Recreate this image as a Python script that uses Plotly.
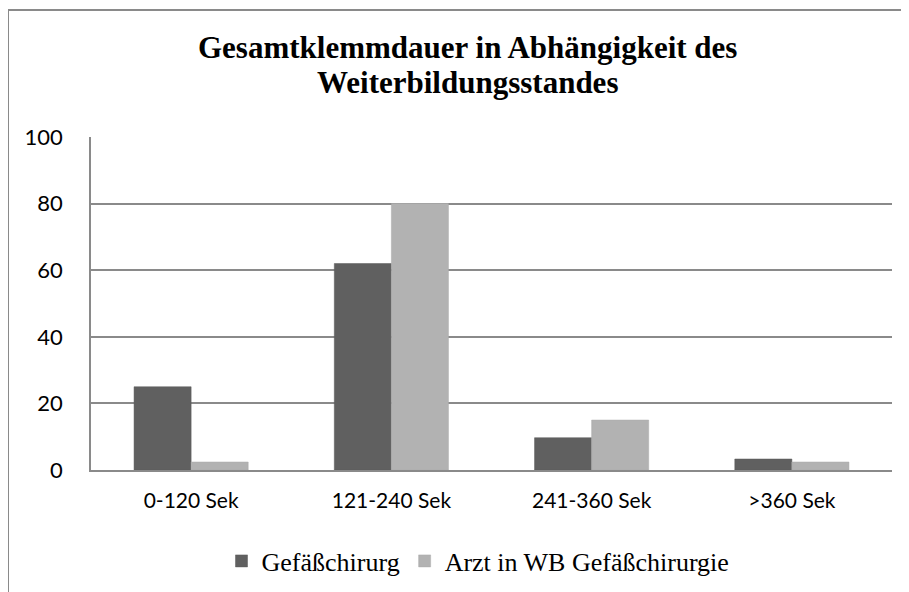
import plotly.graph_objects as go

categories = ["0-120 Sek", "121-240 Sek", "241-360 Sek", ">360 Sek"]
gefaess = [25, 62, 9.7, 3.3]
arzt_wb = [2.4, 80, 15, 2.4]
series_names = ["Gefäßchirurg", "Arzt in WB Gefäßchirurgie"]
title_lines = ["Gesamtklemmdauer in Abhängigkeit des", "Weiterbildungsstandes"]
y_ticks = [0, 20, 40, 60, 80, 100]

W, H = 909, 592
OFF = 7  # page body offset
# target plot area in screen px: x 90..891, y 136..469
L = 90 - OFF
T = 136 - OFF
R = W - (891 - OFF)
B = H - (469 - OFF)
PW = W - L - R
PH = H - T - B


def px_x(sx):
    return (sx - OFF - L) / PW


def px_y(sy):
    return (H - B - (sy - OFF)) / PH


fig = go.Figure()
fig.add_trace(go.Bar(x=categories, y=gefaess, name=series_names[0],
                     marker=dict(color="#606060", line=dict(color="#5a5a5a", width=0.5))))
fig.add_trace(go.Bar(x=categories, y=arzt_wb, name=series_names[1],
                     marker=dict(color="#b2b2b2", line=dict(color="#aaaaaa", width=0.5))))

fig.update_layout(
    width=W, height=H,
    margin=dict(l=L, r=R, t=T, b=B),
    paper_bgcolor="white", plot_bgcolor="white",
    barmode="group", bargap=0.43, bargroupgap=0,
    legend=dict(orientation="h", x=px_x(477), xanchor="center", y=px_y(560), yanchor="middle",
                font=dict(family="Liberation Serif", size=26, color="black"),
                itemwidth=30, traceorder="normal"),
    showlegend=True,
)
for i, (line, sy) in enumerate(zip(title_lines, [46, 81])):
    fig.add_annotation(text="<b>" + line + "</b>", xref="paper", yref="paper",
                       x=px_x(466), y=px_y(sy), xanchor="center", yanchor="middle",
                       showarrow=False,
                       font=dict(family="Liberation Serif", size=31, color="black"))

fig.update_yaxes(range=[0, 100], tickvals=y_ticks, showgrid=True, gridcolor="#8a8a8a", gridwidth=1.5,
                 showline=True, linecolor="#8a8a8a", linewidth=1.5,
                 ticks="outside", ticklen=22, tickcolor="rgba(0,0,0,0)",
                 tickfont=dict(family="Lato", size=22, color="black"), zeroline=False)
fig.update_xaxes(showline=True, linecolor="#8a8a8a", linewidth=1.5,
                 ticks="outside", ticklen=11, tickcolor="rgba(0,0,0,0)",
                 tickfont=dict(family="Lato", size=21, color="black"))

# outer chart frame (left and top edges visible)
fig.add_shape(type="line", xref="paper", yref="paper",
              x0=px_x(7), x1=px_x(7), y0=px_y(9), y1=px_y(600),
              line=dict(color="#8a8a8a", width=2))
fig.add_shape(type="line", xref="paper", yref="paper",
              x0=px_x(7), x1=px_x(920), y0=px_y(9), y1=px_y(9),
              line=dict(color="#8a8a8a", width=2))

fig.write_html("out.html")
